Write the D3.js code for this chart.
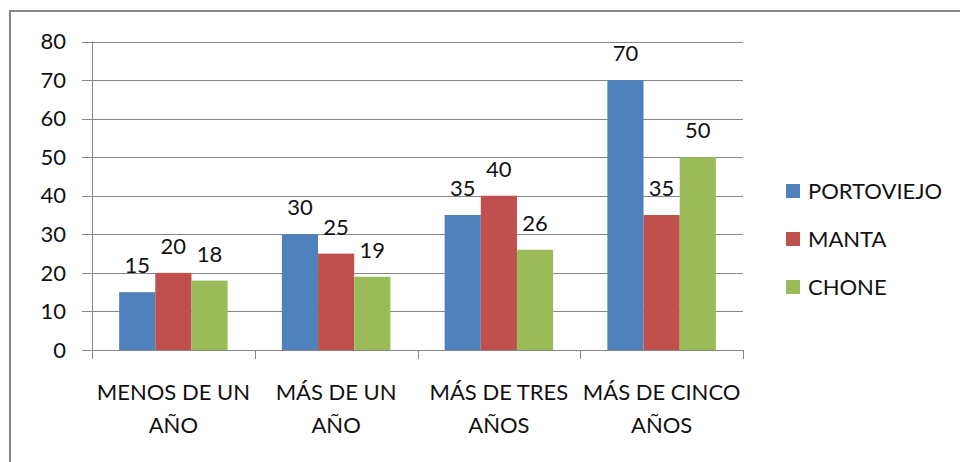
<!DOCTYPE html>
<html>
<head>
<meta charset="utf-8">
<script src="https://cdn.jsdelivr.net/npm/d3@7"></script>
<style>
  body { margin: 0; background: #fff; }
  text { font-family: Lato, "Open Sans", sans-serif; fill: #111; }
</style>
</head>
<body>
<div id="chart"></div>
<script>
  // data
  const categories = [["MENOS DE UN", "AÑO"], ["MÁS DE UN", "AÑO"], ["MÁS DE TRES", "AÑOS"], ["MÁS DE CINCO", "AÑOS"]];
  const seriesNames = ["PORTOVIEJO", "MANTA", "CHONE"];
  const portoviejo = [15, 30, 35, 70];
  const manta = [20, 25, 40, 35];
  const chone = [18, 19, 26, 50];
  const yTicks = [0, 10, 20, 30, 40, 50, 60, 70, 80];
  const colors = ["#4F81BD", "#C0504D", "#9BBB59"];

  const values = [portoviejo, manta, chone];

  const width = 960, height = 462;
  const svg = d3.select("#chart")
    .append("svg")
    .attr("width", width)
    .attr("height", height);

  // outer frame
  svg.append("rect")
    .attr("x", 10).attr("y", 11)
    .attr("width", 1000).attr("height", 500)
    .attr("fill", "none")
    .attr("stroke", "#868686")
    .attr("stroke-width", 2);

  const plot = {left: 92, right: 743, top: 41.5, bottom: 350};

  const y = d3.scaleLinear().domain([0, 80]).range([plot.bottom, plot.top]);
  const x0 = d3.scaleBand().domain(d3.range(categories.length)).range([plot.left, plot.right]);
  // gap width 150% of a bar
  const bw = x0.bandwidth() / 4.5;
  const x1 = d3.scaleBand().domain(d3.range(seriesNames.length))
    .range([0.75 * bw, 3.75 * bw]);

  // gridlines
  svg.append("g")
    .selectAll("line")
    .data(yTicks)
    .join("line")
    .attr("x1", plot.left - 10).attr("x2", plot.right)
    .attr("y1", d => Math.round(y(d)) + 0.5).attr("y2", d => Math.round(y(d)) + 0.5)
    .attr("stroke", "#868686").attr("stroke-width", 1);

  svg.append("g")
    .selectAll("text")
    .data(yTicks)
    .join("text")
    .attr("x", 66)
    .attr("y", d => y(d))
    .attr("dy", "0.35em")
    .attr("text-anchor", "end")
    .style("font-size", "22px")
    .text(d => d);

  // bars
  const groups = svg.append("g")
    .selectAll("g")
    .data(values)
    .join("g")
    .attr("fill", (d, i) => colors[i]);

  groups.each(function(series, si) {
    const g = d3.select(this);
    g.selectAll("rect")
      .data(series)
      .join("rect")
      .attr("x", (d, ci) => x0(ci) + x1(si))
      .attr("y", d => y(d))
      .attr("width", x1.bandwidth())
      .attr("height", d => plot.bottom - y(d));
    g.selectAll("text")
      .data(series)
      .join("text")
      .attr("x", (d, ci) => x0(ci) + x1(si) + x1.bandwidth() / 2)
      .attr("y", d => y(d) - 19)
      .attr("text-anchor", "middle")
      .style("font-size", "22px")
      .text(d => d);
  });

  // axis lines
  svg.append("line")
    .attr("x1", plot.left + 0.5).attr("x2", plot.left + 0.5)
    .attr("y1", plot.top).attr("y2", plot.bottom + 9)
    .attr("stroke", "#868686");
  svg.append("line")
    .attr("x1", plot.left - 10).attr("x2", plot.right)
    .attr("y1", plot.bottom + 0.5).attr("y2", plot.bottom + 0.5)
    .attr("stroke", "#868686");
  svg.append("g")
    .selectAll("line")
    .data(d3.range(categories.length + 1))
    .join("line")
    .attr("x1", i => Math.round(plot.left + i * x0.step()) + 0.5)
    .attr("x2", i => Math.round(plot.left + i * x0.step()) + 0.5)
    .attr("y1", plot.bottom).attr("y2", plot.bottom + 9)
    .attr("stroke", "#868686");

  // category labels
  const cat = svg.append("g")
    .selectAll("text")
    .data(categories)
    .join("text")
    .attr("text-anchor", "middle")
    .style("font-size", "22px");
  cat.each(function(lines, i) {
    d3.select(this).selectAll("tspan")
      .data(lines)
      .join("tspan")
      .attr("x", x0(i) + x0.bandwidth() / 2)
      .attr("y", (d, k) => 400 + k * 33)
      .text(d => d);
  });

  // legend
  const legend = svg.append("g")
    .selectAll("g")
    .data(seriesNames)
    .join("g")
    .attr("transform", (d, i) => `translate(786, ${191 + i * 48})`);
  legend.append("rect")
    .attr("x", 0).attr("y", -7)
    .attr("width", 14).attr("height", 14)
    .attr("fill", (d, i) => colors[i]);
  legend.append("text")
    .attr("x", 22).attr("y", 0)
    .attr("dy", "0.35em")
    .style("font-size", "22px")
    .text(d => d);
</script>
</body>
</html>
